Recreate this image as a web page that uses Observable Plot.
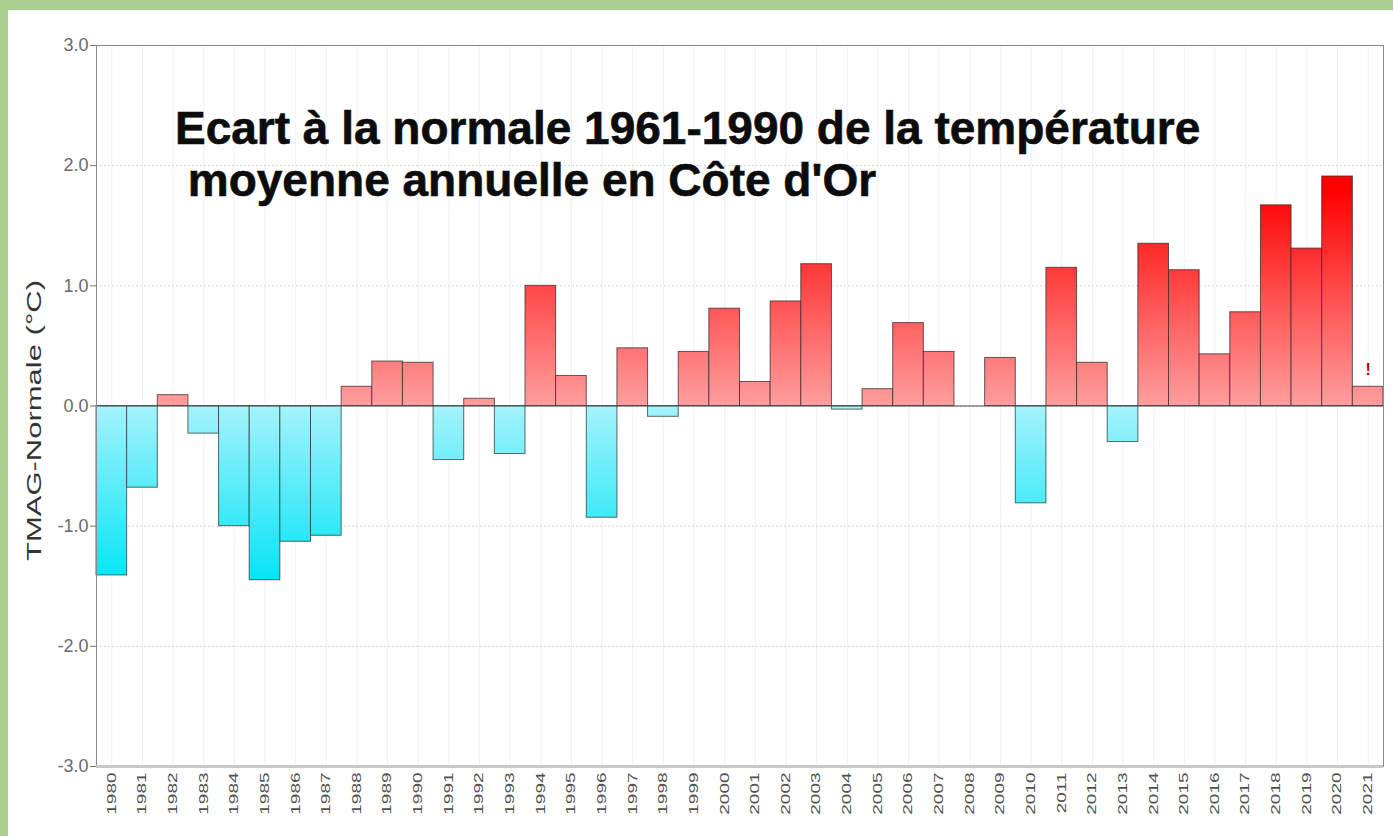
<!DOCTYPE html>
<html><head><meta charset="utf-8">
<script src="https://cdn.jsdelivr.net/npm/d3@7"></script>
<script src="https://cdn.jsdelivr.net/npm/@observablehq/plot@0.6"></script>
<style>
html,body{margin:0;padding:0;background:#a9cf8e;width:1393px;height:836px;overflow:hidden;position:relative;}
#panel{position:absolute;left:8px;top:10px;width:1385px;height:826px;background:#fff;}
#panel svg{display:block;}
#title{position:absolute;left:175px;top:102px;font:bold 46px "Liberation Sans",Arial,sans-serif;line-height:52px;white-space:pre;color:#0c0c0c;-webkit-text-stroke:0.6px #0c0c0c;}
</style></head><body>
<div id="panel"></div>
<div id="title"></div>
<script>
const years = ["1980","1981","1982","1983","1984","1985","1986","1987","1988","1989",
  "1990","1991","1992","1993","1994","1995","1996","1997","1998","1999",
  "2000","2001","2002","2003","2004","2005","2006","2007","2008","2009",
  "2010","2011","2012","2013","2014","2015","2016","2017","2018","2019",
  "2020","2021"];
const values = [-1.41,-0.68,0.09,-0.23,-1.00,-1.45,-1.13,-1.08,0.16,0.37,
  0.36,-0.45,0.06,-0.40,1.00,0.25,-0.93,0.48,-0.09,0.45,
  0.81,0.20,0.87,1.18,-0.03,0.14,0.69,0.45,0.00,0.40,
  -0.81,1.15,0.36,-0.30,1.35,1.13,0.43,0.78,1.67,1.31,
  1.91,0.16];
const yTicks = [-3,-2,-1,0,1,2,3];
const yLabel = "TMAG-Normale (°C)";
const titleLines = ["Ecart à la normale 1961-1990 de la température", " moyenne annuelle en Côte d'Or"];
const noteYear = "2021";
const noteText = "!";

const data = years.map((year, i) => ({year, value: values[i]}));
const pos = data.filter(d => d.value >= 0);
const neg = data.filter(d => d.value < 0);

document.getElementById("title").textContent = titleLines.join("\n");

const font = '"Liberation Sans", Arial, sans-serif';
const chart = Plot.plot({
  width: 1385,
  height: 826,
  marginLeft: 88,
  marginTop: 35,
  marginRight: 10,
  marginBottom: 70,
  style: {fontFamily: font, background: "white"},
  x: {type: "band", domain: years, padding: 0, round: false},
  y: {domain: [-3, 3]},
  marks: [
    Plot.gridX({stroke: "#000", strokeOpacity: 0.06}),
    Plot.ruleY(yTicks, {stroke: "#d4d4d4", strokeDasharray: "2,2"}),
    Plot.barY(pos, {x: "year", y: "value", fill: "url(#gpos)", stroke: "#3a2a2a", strokeWidth: 1, strokeOpacity: 0.75}),
    Plot.barY(neg, {x: "year", y: "value", fill: "url(#gneg)", stroke: "#2a3a3a", strokeWidth: 1, strokeOpacity: 0.75}),
    Plot.ruleY([0], {stroke: "#444", strokeWidth: 1}),
    Plot.frame({stroke: "#8a8a8a"}),
    Plot.ruleY([-3], {stroke: "#c8c8c8", strokeWidth: 3}),
    Plot.axisY({ticks: yTicks, tickFormat: d => d.toFixed(1), fontSize: 18, tickSize: 6, tickPadding: 2, stroke: "#777", fill: "#6a6a6a", label: null}),
    Plot.axisX({tickRotate: -90, tickSize: 0, tickPadding: 6, fontSize: 19, fill: "#505050", label: null}),
    Plot.text([{year: noteYear, value: values[years.indexOf(noteYear)]}], {x: "year", y: "value", text: () => noteText, dy: -17, fill: "#b00000", fontWeight: "bold", fontSize: 16}),
    Plot.text([yLabel], {frameAnchor: "left", textAnchor: "middle", text: d => d, rotate: -90, dx: -62, dy: 14.5, fontSize: 31, fill: "#333"})
  ]
});
document.getElementById("panel").appendChild(chart);

// gradients in plot coordinates
const ys = chart.scale("y");
const d0 = ys.domain[0], d1 = ys.domain[1], r0 = ys.range[0], r1 = ys.range[1];
const py = v => r0 + (v - d0) / (d1 - d0) * (r1 - r0);
const svg = d3.select(chart);
const defs = svg.insert("defs", ":first-child");
const gp = defs.append("linearGradient").attr("id", "gpos").attr("gradientUnits", "userSpaceOnUse")
  .attr("x1", 0).attr("x2", 0).attr("y1", py(0)).attr("y2", py(1.8));
gp.append("stop").attr("offset", 0).attr("stop-color", "#ff9e9e");
gp.append("stop").attr("offset", 1).attr("stop-color", "#ff0000");
const gn = defs.append("linearGradient").attr("id", "gneg").attr("gradientUnits", "userSpaceOnUse")
  .attr("x1", 0).attr("x2", 0).attr("y1", py(0)).attr("y2", py(-1.5));
gn.append("stop").attr("offset", 0).attr("stop-color", "#a4f3fc");
gn.append("stop").attr("offset", 1).attr("stop-color", "#00e4f6");

// squeeze rotated texts to match the reference's stretched look
svg.selectAll("text").each(function() {
  const t = this.getAttribute("transform");
  const txt = this.textContent;
  if (years.includes(txt) && t && t.includes("rotate")) {
    this.setAttribute("transform", t + " scale(1,0.63)");
  }
});
svg.selectAll("text").each(function() {
  if (this.textContent === yLabel) {
    const t = this.getAttribute("transform") || "";
    this.setAttribute("transform", t + " scale(1,0.68)");
  }
});
</script>
</body></html>
